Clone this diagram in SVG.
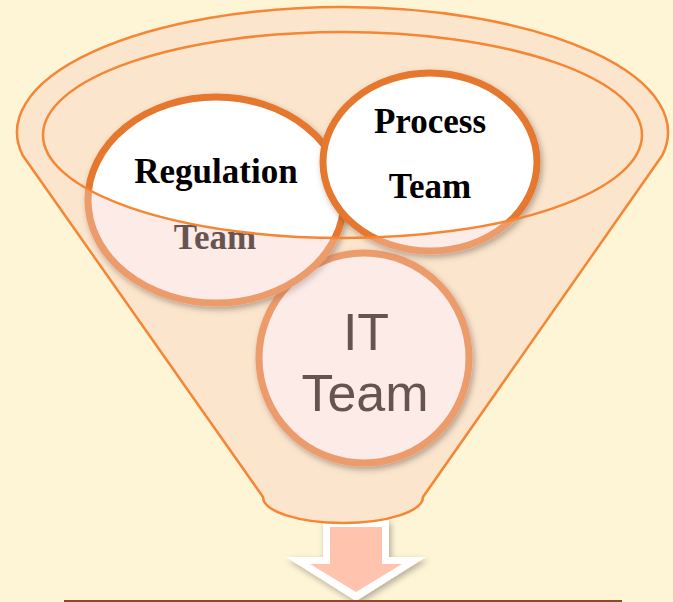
<svg xmlns="http://www.w3.org/2000/svg" width="673" height="602" viewBox="0 0 673 602">
<style>
.funnel-line{fill:none;stroke:#F58634;stroke-width:2.5}
.node{fill:#ffffff;stroke:#E5782F;stroke-width:7}
.serif{font-family:"Liberation Serif","Times New Roman",serif;font-weight:bold;font-size:35px;fill:#000;text-anchor:middle}
.sans{font-family:"Liberation Sans",Arial,sans-serif;font-size:52px;fill:#000;text-anchor:middle}
</style>
<defs>
<filter id="shadow" x="-20%" y="-20%" width="140%" height="140%">
<feDropShadow dx="2" dy="3" stdDeviation="3" flood-color="#000" flood-opacity="0.3"/>
</filter>
<clipPath id="bodyClip">
<path clip-rule="evenodd" d="M22.5,155 A325.5,125 0 1 1 662.5,155 L423,497 A80,26 0 0 1 263,497 Z M43,135 A299.5,103 0 1 0 642,135 A299.5,103 0 1 0 43,135 Z"/>
</clipPath>
<clipPath id="nodeClip">
<circle cx="364" cy="358" r="109"/>
<ellipse cx="216" cy="200" rx="132" ry="107"/>
<ellipse cx="430" cy="162" rx="111" ry="93"/>
</clipPath>
</defs>
<rect width="673" height="602" fill="#FEF4D6"/>
<g id="arrow" filter="url(#shadow)">
<path d="M323,520 L389,520 L389,557 L426,557 L356,601 L286,557 L323,557 Z" fill="#ffffff"/>
<path d="M330,527 L382,527 L382,564 L402,564 L356,592 L310,564 L330,564 Z" fill="#FFC3AE"/>
</g>
<line x1="64" y1="601" x2="622" y2="601" stroke="#8E4A1C" stroke-width="2"/>
<g id="funnel-back">
<path d="M22.5,155 A325.5,125 0 1 1 662.5,155 L423,497 A80,26 0 0 1 263,497 Z" fill="#FCE5CD"/>
</g>
<g id="node-it">
<circle class="node" cx="364" cy="358" r="105" filter="url(#shadow)"/>
<text class="sans"><tspan x="366" y="350">IT</tspan><tspan x="365" y="411">Team</tspan></text>
</g>
<g id="node-regulation">
<ellipse class="node" cx="216" cy="200" rx="128" ry="103" filter="url(#shadow)"/>
<text class="serif"><tspan x="216" y="183">Regulation</tspan><tspan x="215" y="249">Team</tspan></text>
</g>
<g id="node-process">
<ellipse class="node" cx="430" cy="162" rx="107" ry="89" filter="url(#shadow)"/>
<text class="serif"><tspan x="430" y="133">Process</tspan><tspan x="430" y="198">Team</tspan></text>
</g>
<g id="funnel-front">
<g clip-path="url(#bodyClip)">
<rect width="673" height="602" fill="#F7CEC4" fill-opacity="0.408" clip-path="url(#nodeClip)"/>
</g>
<path class="funnel-line" d="M22.5,155 A325.5,125 0 1 1 662.5,155 L423,497 A80,26 0 0 1 263,497 Z"/>
<ellipse class="funnel-line" cx="342.5" cy="135" rx="299.5" ry="103"/>
</g>
</svg>
